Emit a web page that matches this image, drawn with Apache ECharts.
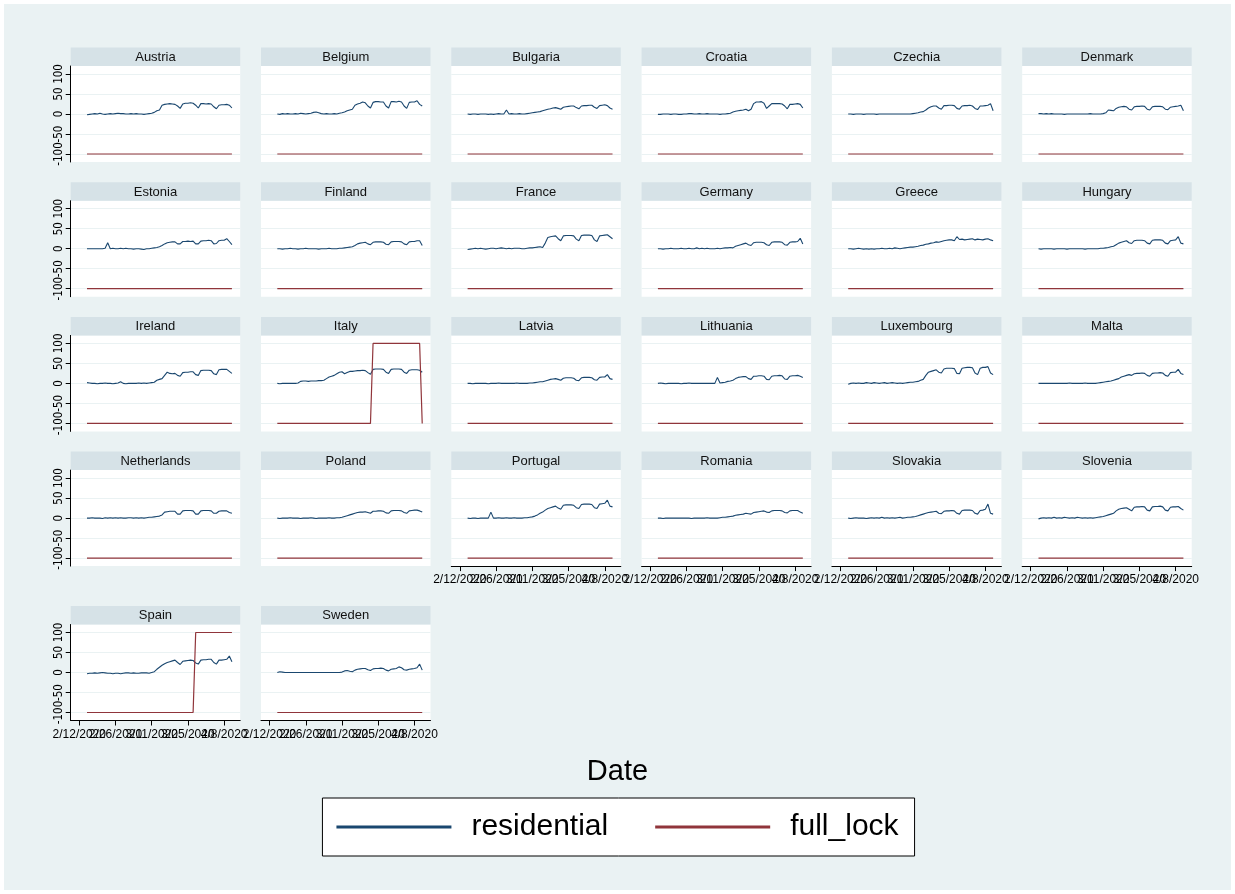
<!DOCTYPE html>
<html>
<head>
<meta charset="utf-8">
<title>Residential mobility and full lockdown, EU countries</title>
<script src="https://cdn.jsdelivr.net/npm/echarts@6/dist/echarts.min.js"></script>
<style>
  html, body { margin: 0; padding: 0; background: #ffffff; }
  #chart { width: 1235px; height: 894px; }
</style>
</head>
<body>
<div id="chart"></div>
<script>
// Panel order (6 columns, filled row by row)
const countries = ['Austria', 'Belgium', 'Bulgaria', 'Croatia', 'Czechia', 'Denmark',
  'Estonia', 'Finland', 'France', 'Germany', 'Greece', 'Hungary',
  'Ireland', 'Italy', 'Latvia', 'Lithuania', 'Luxembourg', 'Malta',
  'Netherlands', 'Poland', 'Portugal', 'Romania', 'Slovakia', 'Slovenia',
  'Spain', 'Sweden'];

// Day index 0 = 2/15/2020 ... 56 = 4/11/2020
const xTickDays = [-3, 11, 25, 39, 53];
const xTickLabels = ['2/12/2020', '2/26/2020', '3/11/2020', '3/25/2020', '4/8/2020'];
const yTicks = [-100, -50, 0, 50, 100];

// residential: % change from baseline, one value per day
const resAustria = [-2,-1,0,1,0,2,0, -1,0,1,0,1,2,1, 1,0,0,1,0,1,0, 0,-1,0,1,2,4,8, 10,22,24,25,26,25,24, 20,14,25,27,27,28,27, 22,15,26,26,25,26,25, 18,13,22,23,23,24,22, 15];
const resBelgium = [0,-1,1,0,1,0,0, 1,0,2,1,0,1,2, 4,5,3,1,0,1,0, 0,1,0,2,3,5,8, 10,12,22,25,27,30,28, 20,15,29,31,31,30,30, 20,15,31,31,30,32,30, 20,14,29,30,30,33,24, 20];
const resBulgaria = [0,-1,0,0,-1,0,0, 0,-1,0,-1,0,1,0, 0,10,0,1,0,0,1, 0,0,1,2,3,4,5, 6,8,10,12,13,15,16, 14,12,17,18,19,20,20, 16,13,20,21,21,22,22, 17,14,21,22,23,21,15, 12];
const resCroatia = [-1,-1,0,0,0,-1,0, 0,-1,-1,0,0,1,1, 0,0,1,0,0,1,0, 0,0,0,-1,0,0,1, 2,5,7,8,9,10,12, 8,12,26,30,30,31,27, 14,20,26,26,26,26,25, 20,13,24,24,25,26,24, 15];
const resCzechia = [0,0,-1,0,0,0,-1, 0,0,0,0,-1,0,0, 0,0,0,0,0,0,0, 0,0,0,0,1,2,3, 5,6,10,15,18,20,20, 15,12,21,21,22,22,21, 14,12,20,21,21,22,20, 14,11,20,20,21,22,26, 8];
const resDenmark = [1,1,0,1,0,1,0, 0,0,0,-1,0,0,0, 0,0,0,0,0,0,1, 0,0,0,0,1,3,10, 9,8,14,17,18,19,18, 12,10,18,19,19,20,19, 12,10,18,19,19,19,18, 12,11,17,18,19,20,22, 8];
const resEstonia = [0,0,0,0,0,0,0, 1,15,0,1,0,0,1, 0,1,0,0,-1,0,0, -1,-2,0,0,1,2,3, 5,8,12,15,16,17,17, 12,12,18,18,19,18,19, 12,12,19,20,20,21,20, 12,13,20,21,21,25,18, 10];
const resFinland = [0,0,-1,0,0,1,0, 0,-1,0,0,1,0,0, 0,0,-1,0,0,0,1, 0,0,0,1,1,2,3, 4,5,8,12,14,15,16, 12,10,16,17,17,17,16, 11,10,17,18,18,18,17, 12,10,17,18,18,20,20, 8];
const resFrance = [-2,-1,0,1,0,1,0, -1,0,1,1,0,1,2, 1,0,1,0,1,1,1, 0,0,1,2,2,3,4, 5,3,14,28,30,31,32, 25,20,32,33,33,33,32, 24,20,33,34,34,34,33, 22,18,32,33,34,35,30, 25];
const resGermany = [0,0,-1,0,0,1,0, 0,0,1,0,0,1,0, 0,2,0,1,0,1,0, 0,0,1,0,1,2,2, 3,2,6,8,10,12,14, 10,8,15,16,16,16,15, 10,8,16,17,17,17,16, 10,9,16,17,17,18,26, 12];
const resGreece = [0,0,-1,0,1,0,-1, 0,-1,0,-1,0,0,1, 0,0,1,0,2,1,0, 1,2,3,4,4,5,6, 8,9,11,12,14,15,17, 16,18,20,21,22,22,20, 30,23,24,22,23,24,25, 22,24,23,22,24,25,22, 20];
const resHungary = [0,-1,0,0,0,0,-1, 0,0,0,0,-1,0,0, 0,0,0,0,-1,0,0, 0,0,0,1,1,2,3, 5,6,10,14,16,18,20, 15,13,20,21,21,21,20, 14,12,21,22,22,22,21, 14,12,20,21,22,30,14, 12];
const resIreland = [2,1,0,0,-1,0,0, 1,0,0,-1,0,1,4, 0,-1,0,0,0,0,1, 0,1,0,1,2,3,8, 10,12,20,28,25,24,25, 20,18,27,28,28,29,29, 22,20,32,33,33,33,32, 24,22,34,35,35,35,30, 25];
const resItaly = [0,-1,0,0,0,0,0, 0,1,5,6,6,5,6, 6,6,7,7,8,12,16, 18,20,24,28,29,24,27, 30,30,31,32,32,33,32, 27,23,35,36,36,36,35, 28,25,35,36,36,36,35, 28,25,33,34,34,34,33, 28];
const resLatvia = [0,0,-1,0,0,0,0, 0,-1,0,0,0,1,0, 0,0,0,0,0,1,0, 0,0,0,1,1,2,3, 4,4,6,8,10,11,12, 10,8,13,14,14,14,13, 8,7,14,15,15,15,14, 9,8,15,16,16,22,12, 10];
const resLithuania = [0,1,0,-1,0,0,0, 0,0,-1,0,0,1,0, 0,0,0,0,0,0,0, 0,0,15,1,2,3,5, 6,8,12,15,16,17,17, 12,10,18,18,19,19,18, 10,9,18,19,19,20,19, 11,10,18,19,19,20,18, 15];
const resLuxembourg = [-2,0,1,0,1,0,0, 2,1,0,2,1,0,1, 2,0,1,2,1,0,1, 0,1,2,3,3,4,5, 8,10,20,28,30,32,34, 28,26,36,38,38,38,37, 25,24,38,39,40,40,39, 26,22,38,40,40,42,26, 22];
const resMalta = [0,0,0,0,0,0,0, 0,0,0,0,0,1,0, 0,0,0,0,1,0,0, 0,0,1,2,3,4,5, 6,8,10,12,16,18,20, 22,20,24,25,25,26,25, 20,18,25,26,26,27,26, 20,18,27,28,28,35,25, 22];
const resNetherlands = [0,0,1,0,0,0,-1, 1,0,1,0,1,0,1, 0,0,1,1,0,1,0, 1,0,1,2,2,3,4, 5,8,15,16,17,17,17, 10,10,18,19,19,19,18, 10,10,18,19,19,19,18, 12,12,17,18,18,18,14, 12];
const resPoland = [0,-1,0,0,0,1,0, 0,0,-1,0,0,0,1, 0,-1,0,0,0,0,1, 0,0,1,1,2,4,6, 8,10,12,14,15,15,16, 14,12,17,17,18,18,17, 13,12,18,19,19,19,18, 14,12,18,19,20,20,18, 15];
const resPortugal = [0,-1,0,0,-1,0,0, 0,0,15,0,0,1,0, 0,1,0,0,1,0,0, 0,1,1,2,3,5,8, 12,15,20,24,26,28,30, 25,22,32,33,33,33,32, 26,24,34,35,35,35,34, 26,24,35,36,37,45,30, 28];
const resRomania = [0,0,-1,0,0,0,0, 0,0,0,0,0,0,-1, 0,0,0,0,0,1,0, 0,0,0,1,2,2,3, 4,5,7,8,9,10,12, 11,10,14,15,16,17,18, 15,14,18,19,19,19,18, 14,13,18,19,19,19,15, 12];
const resSlovakia = [0,-1,0,1,0,0,0, -1,0,1,0,1,0,2, 0,1,0,1,0,1,2, 0,1,2,2,3,4,6, 8,10,12,14,15,16,17, 12,11,17,18,18,19,18, 12,10,19,20,20,20,19, 12,10,19,20,22,35,12, 10];
const resSlovenia = [-2,0,1,0,1,0,2, 0,1,0,2,1,0,1, 0,2,1,0,1,0,1, 0,1,2,3,4,6,8, 10,12,18,22,24,25,26, 22,18,27,28,28,29,28, 20,18,28,29,29,30,28, 20,18,27,28,28,29,24, 20];
const resSpain = [-3,-2,-2,-1,-2,-1,0, -1,-2,-2,-3,-2,-2,-3, -2,-1,-1,-2,-1,-2,-2, -1,-1,-1,-2,0,2,8, 13,18,22,25,27,29,31, 25,20,28,29,30,31,30, 24,21,31,32,32,33,33, 25,21,31,31,32,33,41, 27];
const resSweden = [0,2,1,0,0,0,0, 0,0,0,0,0,0,0, 0,0,0,0,0,0,0, 0,0,0,0,1,4,5, 3,2,6,8,9,10,10, 7,5,9,10,10,11,10, 6,4,8,9,10,14,12, 7,6,8,9,10,12,21, 6];

// full_lock: 100 while a full lockdown is in force, -100 otherwise
const lockNone = [-100,-100,-100,-100,-100,-100,-100, -100,-100,-100,-100,-100,-100,-100, -100,-100,-100,-100,-100,-100,-100, -100,-100,-100,-100,-100,-100,-100, -100,-100,-100,-100,-100,-100,-100, -100,-100,-100,-100,-100,-100,-100, -100,-100,-100,-100,-100,-100,-100, -100,-100,-100,-100,-100,-100,-100, -100];
const lockItaly = [-100,-100,-100,-100,-100,-100,-100, -100,-100,-100,-100,-100,-100,-100, -100,-100,-100,-100,-100,-100,-100, -100,-100,-100,-100,-100,-100,-100, -100,-100,-100,-100,-100,-100,-100, -100,-100,100,100,100,100,100, 100,100,100,100,100,100,100, 100,100,100,100,100,100,100, -100];
const lockSpain = [-100,-100,-100,-100,-100,-100,-100, -100,-100,-100,-100,-100,-100,-100, -100,-100,-100,-100,-100,-100,-100, -100,-100,-100,-100,-100,-100,-100, -100,-100,-100,-100,-100,-100,-100, -100,-100,-100,-100,-100,-100,-100, 100,100,100,100,100,100,100, 100,100,100,100,100,100,100, 100];

const residential = [resAustria, resBelgium, resBulgaria, resCroatia, resCzechia, resDenmark,
  resEstonia, resFinland, resFrance, resGermany, resGreece, resHungary,
  resIreland, resItaly, resLatvia, resLithuania, resLuxembourg, resMalta,
  resNetherlands, resPoland, resPortugal, resRomania, resSlovakia, resSlovenia,
  resSpain, resSweden];
const fullLock = countries.map(function (c) {
  return c === 'Italy' ? lockItaly : (c === 'Spain' ? lockSpain : lockNone);
});

// Colours (Stata s2color look)
const NAVY = '#1A476F';
const MAROON = '#90353B';
const OUTER_BG = '#EAF2F3';
const STRIP_BG = '#D6E2E7';
const GRID_LINE = '#EAF2F3';
const FONT = '"Liberation Sans", Arial, Helvetica, sans-serif';
const NARROW = '"Liberation Sans Narrow", "Arial Narrow", "DejaVu Sans Condensed", sans-serif';

// Panel geometry
const NCOL = 6;
const colLeft0 = 70.7, colStep = 190.3, panelW = 169.5;
const rowTops = [47.5, 182.2, 316.9, 451.6, 606];
const stripH = 18.5, plotH = 96;
const xMin = -6.3, xMax = 59.2;

// The date labels overlap each other, so they are split over two
// coincident axes (odd / even ticks) to keep every one of them drawn.
const labelSets = [
  [xTickDays[0], xTickDays[2], xTickDays[4]],
  [xTickDays[1], xTickDays[3]]
];

function dateLabel(v) {
  const k = xTickDays.indexOf(Math.round(v));
  return k >= 0 ? xTickLabels[k] : '';
}

const grids = [], xAxes = [], yAxes = [], series = [], graphics = [];

graphics.push({
  type: 'rect', silent: true, z: -10,
  shape: { x: 4, y: 4, width: 1227, height: 886 },
  style: { fill: OUTER_BG }
});

const nPanels = countries.length;

countries.forEach(function (name, i) {
  const c = i % NCOL, r = Math.floor(i / NCOL);
  const left = colLeft0 + c * colStep;
  const stripTop = rowTops[r];
  const top = stripTop + stripH;
  // x axis drawn only on the lowest panel of each column
  const showX = (i + NCOL >= nPanels);
  const showY = (c === 0);

  grids.push({
    left: left, top: top, width: panelW, height: plotH,
    show: true, backgroundColor: '#ffffff', borderWidth: 0, containLabel: false
  });

  graphics.push({
    type: 'rect', silent: true,
    shape: { x: left, y: stripTop, width: panelW, height: stripH },
    style: { fill: STRIP_BG }
  });
  graphics.push({
    type: 'text', silent: true,
    x: left + panelW / 2, y: stripTop + stripH / 2 + 0.5,
    style: { text: name, fill: '#111', font: '13px ' + FONT, align: 'center', verticalAlign: 'middle' }
  });

  const mainX = xAxes.length;
  xAxes.push({
    gridIndex: i, type: 'value', min: xMin, max: xMax, position: 'bottom',
    axisLine: { show: showX, onZero: false, lineStyle: { color: '#000', width: 1 } },
    axisTick: { show: showX, length: 5, customValues: xTickDays, lineStyle: { color: '#000' } },
    axisLabel: {
      show: showX, customValues: labelSets[0], interval: 0, margin: 8, fontSize: 12, color: '#000', fontFamily: FONT,
      showMinLabel: true, showMaxLabel: true, hideOverlap: false, formatter: dateLabel
    },
    splitLine: { show: false }
  });
  if (showX) {
    xAxes.push({
      gridIndex: i, type: 'value', min: xMin, max: xMax, position: 'bottom', offset: 0,
      axisLine: { show: false, onZero: false },
      axisTick: { show: false },
      axisLabel: {
        show: true, customValues: labelSets[1], interval: 0, margin: 8, fontSize: 12, color: '#000', fontFamily: FONT,
        showMinLabel: true, showMaxLabel: true, hideOverlap: false, formatter: dateLabel
      },
      splitLine: { show: false }
    });
  }

  yAxes.push({
    gridIndex: i, type: 'value', min: -120, max: 120,
    axisLine: { show: showY, onZero: false, lineStyle: { color: '#000', width: 1 } },
    axisTick: { show: showY, length: 5, customValues: yTicks, lineStyle: { color: '#000' } },
    axisLabel: {
      show: showY, customValues: yTicks, interval: 0, rotate: 90, margin: 6,
      showMinLabel: true, showMaxLabel: true, hideOverlap: false,
      fontSize: 11.5, color: '#000', fontFamily: NARROW
    },
    splitLine: { show: true, lineStyle: { color: GRID_LINE, width: 1 } }
  });

  series.push({
    name: 'residential', type: 'line', xAxisIndex: mainX, yAxisIndex: i,
    data: residential[i].map(function (v, d) { return [d, v]; }),
    showSymbol: false, symbol: 'none', color: NAVY,
    lineStyle: { color: NAVY, width: 1.1 }, z: 3, animation: false, silent: true
  });
  series.push({
    name: 'full_lock', type: 'line', xAxisIndex: mainX, yAxisIndex: i,
    data: fullLock[i].map(function (v, d) { return [d, v]; }),
    showSymbol: false, symbol: 'none', color: MAROON,
    lineStyle: { color: MAROON, width: 1.2 }, z: 3, animation: false, silent: true
  });
});

const chart = echarts.init(document.getElementById('chart'), null, { renderer: 'canvas' });
chart.setOption({
  backgroundColor: '#ffffff',
  animation: false,
  textStyle: { fontFamily: FONT },
  title: {
    text: 'Date', left: 'center', top: 752,
    textStyle: { fontSize: 29, fontWeight: 'normal', color: '#000', fontFamily: FONT }
  },
  legend: {
    data: [{ name: 'residential', icon: 'rect' }, { name: 'full_lock', icon: 'rect' }],
    left: 'center', top: 798, orient: 'horizontal',
    itemWidth: 115, itemHeight: 3, itemGap: 47,
    backgroundColor: '#ffffff', borderColor: '#000', borderWidth: 1,
    padding: [14, 16, 14, 14], selectedMode: false,
    textStyle: { fontSize: 30, color: '#000', fontFamily: FONT, padding: [0, 0, 0, 15] }
  },
  grid: grids,
  xAxis: xAxes,
  yAxis: yAxes,
  series: series,
  graphic: { elements: graphics }
});
</script>
</body>
</html>
